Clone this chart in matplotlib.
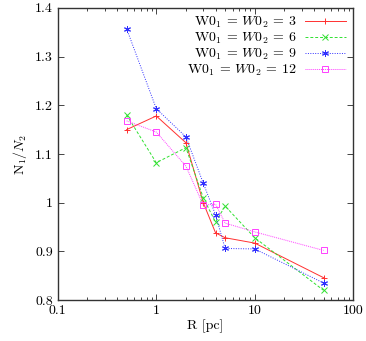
import matplotlib
matplotlib.use("Agg")
import matplotlib.pyplot as plt
from matplotlib.ticker import FixedLocator, FixedFormatter, LogLocator, NullFormatter

plt.rcParams['font.family'] = 'serif'
plt.rcParams['font.serif'] = ['cmr10', 'DejaVu Serif']
plt.rcParams['mathtext.fontset'] = 'cm'
plt.rcParams['axes.unicode_minus'] = False

R = [0.5, 1, 2, 3, 4, 5, 10, 50]
w3 = [1.150, 1.178, 1.123, 1.000, 0.938, 0.928, 0.917, 0.846]
w6 = [1.180, 1.082, 1.113, 1.010, 0.960, 0.993, 0.928, 0.820]
w9 = [1.357, 1.193, 1.135, 1.040, 0.975, 0.906, 0.905, 0.835]
w12 = [1.168, 1.145, 1.075, 0.995, 0.997, 0.958, 0.940, 0.902]
labels = [r'W0$_1$ = $W0_2$ = 3', r'W0$_1$ = $W0_2$ = 6',
          r'W0$_1$ = $W0_2$ = 9', r'W0$_1$ = $W0_2$ = 12']
xticks = [0.1, 1, 10, 100]
xticklabels = ['0.1', '1', '10', '100']
yticks = [0.8, 0.9, 1.0, 1.1, 1.2, 1.3, 1.4]
yticklabels = ['0.8', '0.9', '1', '1.1', '1.2', '1.3', '1.4']

fig = plt.figure(figsize=(3.66, 3.41), dpi=100)
ax = fig.add_axes([0.158, 0.12, 0.807, 0.857])

ax.plot(R, w3, color='#ff3030', ls='-', lw=0.7, marker='+', ms=5, mew=0.7, label=labels[0])
ax.plot(R, w6, color='#30e030', ls=(0, (3, 2)), lw=0.7, marker='x', ms=4, mew=0.7, label=labels[1])
ax.plot(R, w9, color='#3030ff', ls=(0, (1, 1.5)), lw=0.7, marker=(6, 2, 0), ms=5, mew=0.7, label=labels[2])
ax.plot(R, w12, color='#ff40ff', ls=(0, (1, 1)), lw=0.7, marker='s', ms=5, mew=0.7, mfc='none', label=labels[3])

ax.set_xscale('log')
ax.set_xlim(0.1, 100)
ax.set_ylim(0.8, 1.4)
ax.xaxis.set_major_locator(FixedLocator(xticks))
ax.xaxis.set_major_formatter(FixedFormatter(xticklabels))
ax.xaxis.set_minor_locator(LogLocator(base=10, subs=range(2, 10)))
ax.xaxis.set_minor_formatter(NullFormatter())
ax.yaxis.set_major_locator(FixedLocator(yticks))
ax.yaxis.set_major_formatter(FixedFormatter(yticklabels))
ax.tick_params(which='both', direction='in', top=True, right=True, labelsize=10, color='#444444')
ax.tick_params(which='major', length=4, width=0.7)
ax.tick_params(which='minor', length=2, width=0.7)
for s in ax.spines.values():
    s.set_linewidth(1.0)
    s.set_color('#333333')

ax.set_xlabel('R [pc]', fontsize=10, labelpad=2)
ax.set_ylabel(r'N$_1$/$N_2$', fontsize=10, labelpad=4)

ax.legend(loc='upper right', markerfirst=False, frameon=False, fontsize=10,
          handlelength=3, labelspacing=0.05, borderaxespad=0.1, handletextpad=0.6)

fig.savefig('out.png', dpi=100)
